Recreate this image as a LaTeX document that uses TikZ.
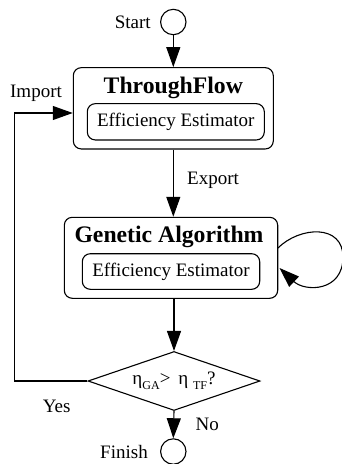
\documentclass[tikz,border=0pt]{standalone}
\usepackage{fontspec}
\setmainfont{Liberation Serif}
\usetikzlibrary{arrows.meta,shapes.geometric}
\begin{document}
\begin{tikzpicture}[x=1pt,y=-1pt,
  line width=1.1pt,
  arr/.style={-{Triangle[length=20pt,width=14pt]}},
  lbl/.style={inner sep=0pt,font=\fontsize{19}{22}\selectfont},
  ttl/.style={inner sep=0pt,font=\fontsize{23.7}{26}\selectfont\bfseries},
  outerbox/.style={draw,rounded corners=8pt,inner sep=0pt},
  innerbox/.style={draw,rounded corners=8pt,inner sep=0pt,font=\fontsize{19}{22}\selectfont},
  term/.style={draw,circle,minimum size=25.4pt,inner sep=0pt}]
\useasboundingbox (0,0) rectangle (342,464);
\begin{scope}
\clip (0,0) rectangle (342,464);
% terminals
\node[term] (start) at (173.3,22) {};
\node[lbl] (startl) at (132.7,22) {Start};
\node[term] (finish) at (173.3,451.5) {};
\node[lbl] (finishl) at (124,451.5) {Finish};
% ThroughFlow
\node[outerbox,minimum width=200pt,minimum height=81.3pt] (tf) at (173.3,108.3) {};
\node[ttl] (tft) at (173.3,87.7) {ThroughFlow};
\node[innerbox,minimum width=177pt,minimum height=36.3pt] (tfe) at (175.8,121.8) {Efficiency Estimator};
% Genetic Algorithm
\node[outerbox,minimum width=213.4pt,minimum height=81pt] (ga) at (171,257.8) {};
\node[ttl] (gat) at (169,236.7) {Genetic Algorithm};
\node[innerbox,minimum width=177.4pt,minimum height=35.6pt] (gae) at (171,271.5) {Efficiency Estimator};
% decision
\node[draw,diamond,aspect=2.9,minimum width=172pt,minimum height=59pt,inner sep=0pt,
      font=\fontsize{19}{22}\selectfont] (dec) at (174,381)
  {η\raisebox{-0.6ex}{\fontsize{12}{14}\selectfont GA}>\ \,η\ \raisebox{-0.6ex}{\fontsize{12}{14}\selectfont TF}?};
% labels
\node[lbl] (impl) at (36,93.3) {Import};
\node[lbl] (expl) at (213,180.7) {Export};
\node[lbl] (yesl) at (56.7,406.7) {Yes};
\node[lbl] (nol) at (207.3,424.3) {No};
% connectors
\draw[arr] (start) -- (start |- tf.north);
\draw[arr] (start |- tf.south) -- (start |- ga.north);
\draw[arr] (dec.north |- ga.south) -- (dec.north);
\draw[arr] (dec.south) -- (finish.north);
\coordinate (imp) at (14.3,113);
\draw[arr] (dec.west) -| (imp) -- (imp -| tf.west);
\coordinate (l1) at (277.6,248.3);
\coordinate (l2) at (279.5,268);
\draw[arr] (l1) .. controls (300,226) and (343,224) .. (343,257)
  .. controls (343,292) and (305,292) .. (l2);
\end{scope}
\end{tikzpicture}
\end{document}
